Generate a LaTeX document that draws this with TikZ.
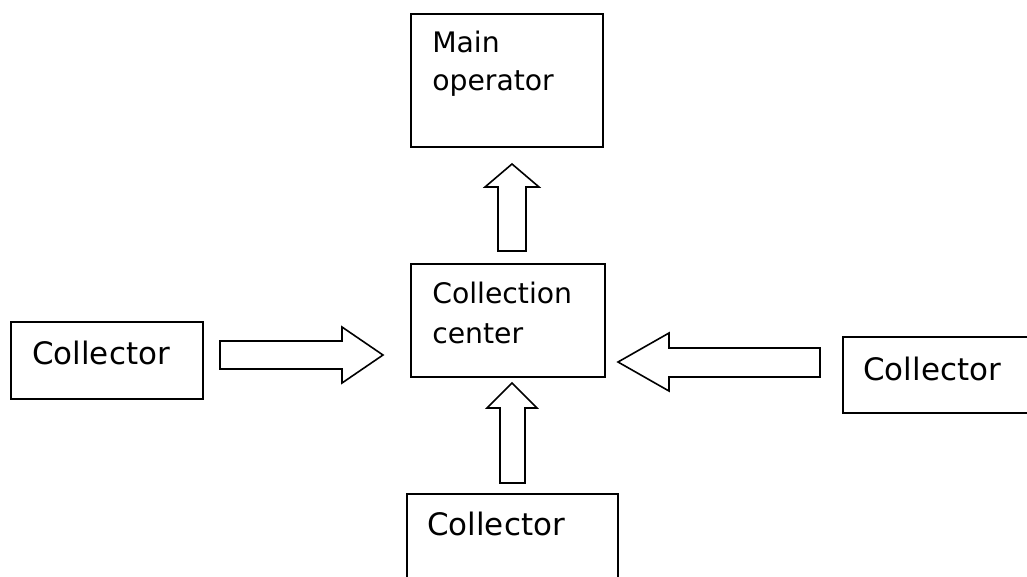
\documentclass[tikz,border=0pt]{standalone}
\usepackage{fontspec}
\setmainfont{DejaVu Sans}
\begin{document}
\begin{tikzpicture}[x=0.75pt,y=-0.75pt,
  boxst/.style={draw=black,line width=1.5pt,inner sep=0pt,anchor=north west},
  txt/.style={anchor=base west,inner sep=0pt,font=\fontsize{21.2pt}{25pt}\selectfont},
  txtbig/.style={anchor=base west,inner sep=0pt,font=\fontsize{23.2pt}{27pt}\selectfont},
  blockarrow/.style={draw=black,line width=1.2pt,line join=miter,fill=white}]
\useasboundingbox (0,0) rectangle (1027,576);
\clip (0,0) rectangle (1027,576);
% boxes
\node[boxst,minimum width=144pt,minimum height=99.75pt] (main) at (410,13) {};
\node[boxst,minimum width=145.5pt,minimum height=84.75pt] (center) at (410,263) {};
\node[boxst,minimum width=144pt,minimum height=57.75pt] (left) at (10,321) {};
\node[boxst,minimum width=150pt,minimum height=57pt] (right) at (842,336) {};
\node[boxst,minimum width=158.25pt,minimum height=75pt] (bottom) at (406,493) {};
% texts
\node[txt] (t1) at (432,52) {Main};
\node[txt] (t2) at (432,90) {operator};
\node[txt] (t3) at (432,303) {Collection};
\node[txt] (t4) at (432,343) {center};
\node[txtbig] (t5) at (32,364) {Collector};
\node[txtbig] (t6) at (863,380) {Collector};
\node[txtbig] (t7) at (427,535) {Collector};
% block arrows
\draw[blockarrow] (220,341) -- (342,341) -- (342,327) -- (383,355) -- (342,383) -- (342,369) -- (220,369) -- cycle;
\draw[blockarrow] (820,348) -- (669,348) -- (669,333) -- (618,362) -- (669,391) -- (669,377) -- (820,377) -- cycle;
\draw[blockarrow] (498,251) -- (498,187) -- (485,187) -- (512,164) -- (539,187) -- (526,187) -- (526,251) -- cycle;
\draw[blockarrow] (500,483) -- (500,408) -- (487,408) -- (512,383) -- (537,408) -- (525,408) -- (525,483) -- cycle;
\end{tikzpicture}
\end{document}
